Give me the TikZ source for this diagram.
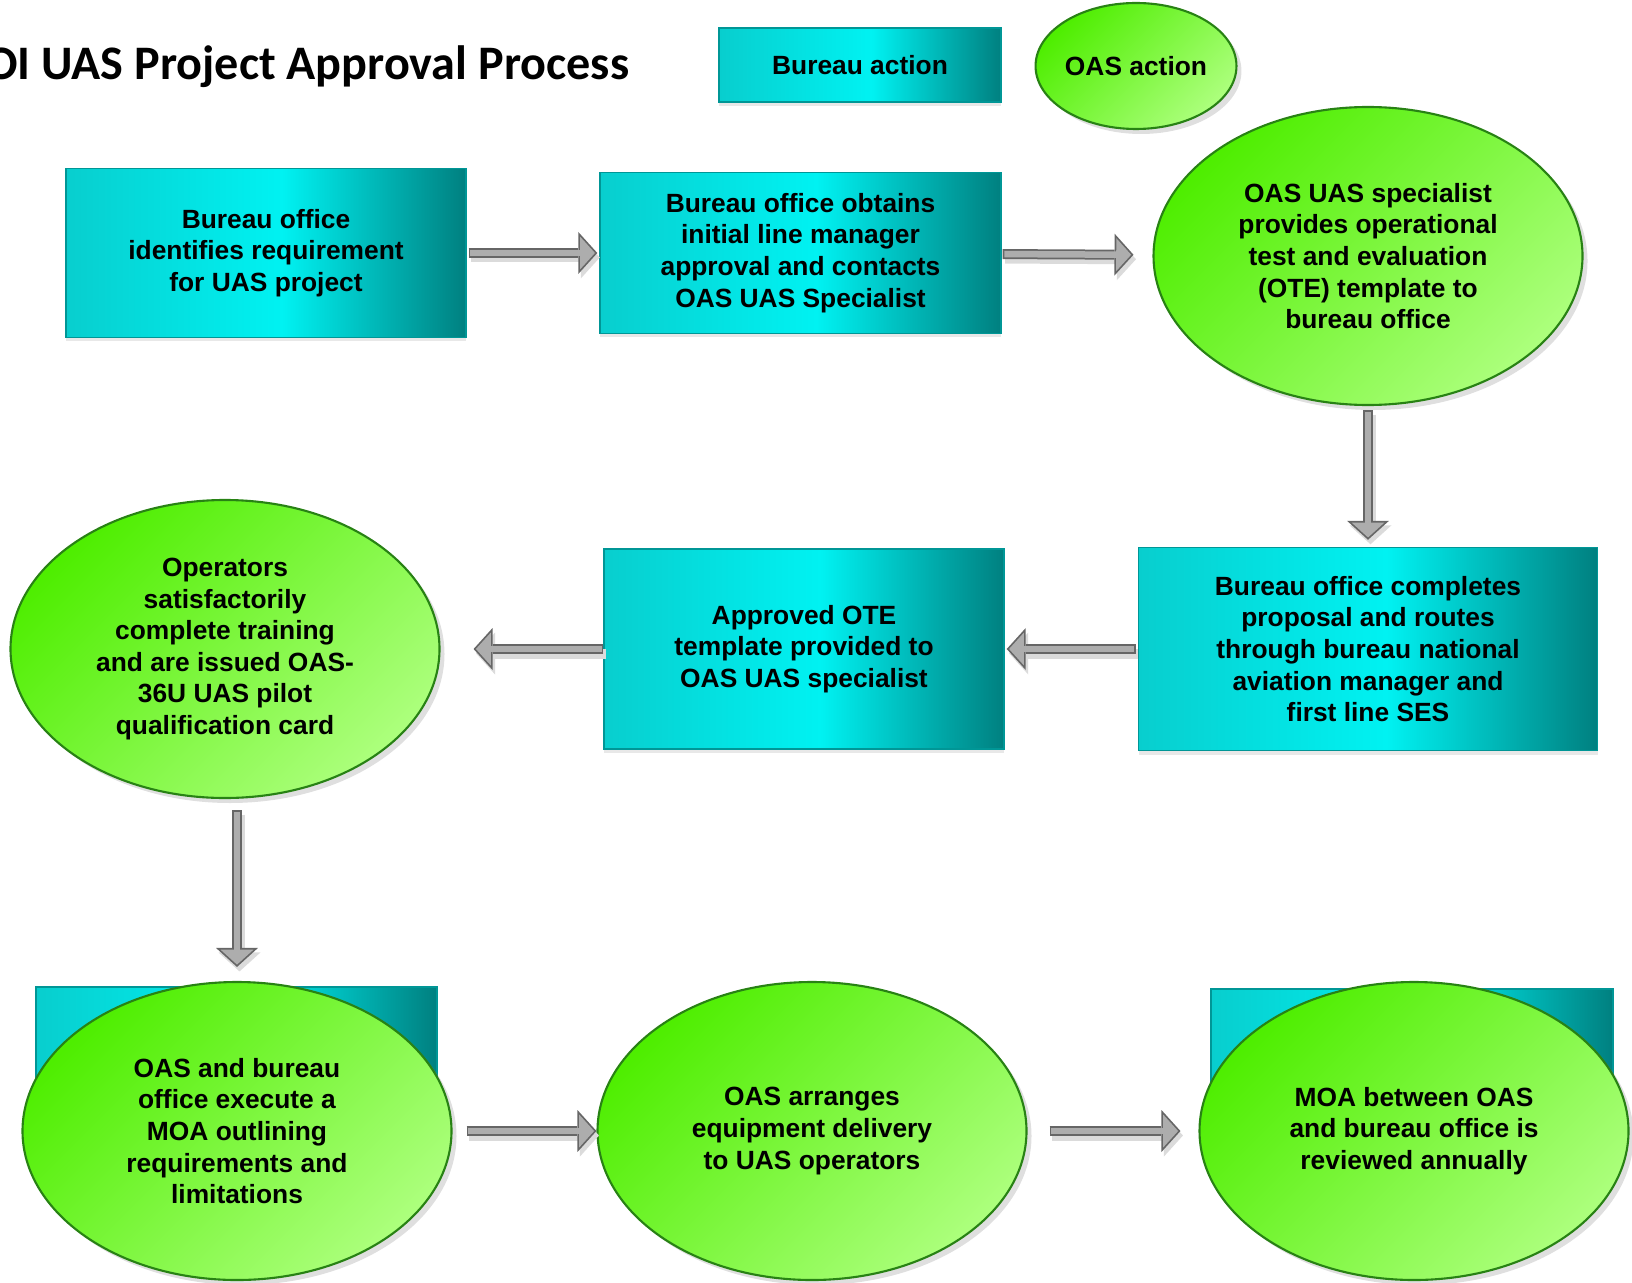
\documentclass[tikz,border=0pt]{standalone}
\usepackage{fontspec}
\setmainfont{Liberation Sans}
\newfontfamily\titlefont{Carlito}
\usepackage{tikz}
\usetikzlibrary{positioning}
\usetikzlibrary{calc}
\usetikzlibrary{arrows.meta}
\usetikzlibrary{shapes}
\usetikzlibrary{shadows}

\definecolor{bureauL}{RGB}{8,206,206}
\definecolor{bureauM}{RGB}{0,242,242}
\definecolor{bureauR}{RGB}{0,128,128}
\definecolor{bureauLine}{RGB}{0,150,150}
\definecolor{oasA}{RGB}{78,238,0}
\definecolor{oasB}{RGB}{172,255,124}
\definecolor{oasLine}{RGB}{40,130,20}

% cyan bar: light left, bright middle, dark teal right
\pgfdeclarehorizontalshading{bureau}{100bp}{color(0bp)=(bureauL); color(25bp)=(bureauL); color(52bp)=(bureauM); color(75bp)=(bureauR); color(100bp)=(bureauR)}

\newcommand{\boxfont}{\fontsize{7.5}{9.0}\selectfont\bfseries}

\tikzset{
bur/.style={
  rectangle,
  inner sep=0pt,
  align=center,
  draw=bureauLine,
  line width=0.4pt,
  shade,
  shading=bureau,
  drop shadow={shadow xshift=0cm,shadow yshift=-0.04cm,opacity=0.18},
  font=\boxfont
  },
oas/.style={
  ellipse,
  inner sep=0pt,
  align=center,
  minimum width=4.29cm,
  minimum height=2.98cm,
  draw=oasLine,
  line width=0.6pt,
  top color=oasA,
  bottom color=oasB,
  shading angle=45,
  drop shadow={shadow xshift=0.05cm,shadow yshift=-0.05cm,opacity=0.25},
  font=\boxfont
  },
flow/.style 2 args={
  line width=0.1cm,
  draw=black!60,
  shorten <=#1,
  shorten >=#2,
  -{Triangle[length=0.19cm,width=0.42cm,line width=0pt]}
  },
flowfill/.style 2 args={
  line width=0.065cm,
  draw=black!32,
  shorten <=#1+0.0175cm,
  shorten >=#2+0.0236cm,
  -{Triangle[length=0.149cm,width=0.329cm,line width=0pt]}
  },
flowshadow/.style 2 args={
  flow={#1}{#2},
  draw=black!14,
  transform canvas={shift={(0.025,-0.045)}}
  }
}

\begin{document}
\begin{tikzpicture}
        \useasboundingbox (0,0) rectangle (16.32,-12.82);

        % heading and key
        \node[anchor=base east,inner sep=0pt,font={\titlefont\fontsize{13.7}{16}\selectfont\bfseries}] at (6.30,-0.80) (title) {DOI UAS Project Approval Process};
        \node[bur,minimum width=2.82cm,minimum height=0.74cm] at (8.60,-0.65) (keybur) {Bureau action};
        \node[oas,minimum width=2.00cm,minimum height=1.26cm] at (11.36,-0.66) (keyoas) {OAS action};

        % first row
        \node[bur,minimum width=4.00cm,minimum height=1.69cm] at (2.66,-2.53) (req) {Bureau office\\identifies requirement\\for UAS project};
        \node[bur,minimum width=4.01cm,minimum height=1.61cm] at (8.005,-2.53) (obtain) {Bureau office obtains\\initial line manager\\approval and contacts\\OAS UAS Specialist};
        \node[oas] at (13.68,-2.56) (ote) {OAS UAS specialist\\provides operational\\test and evaluation\\(OTE) template to\\bureau office};

        % second row
        \node[bur,minimum width=4.59cm,minimum height=2.03cm] at (13.68,-6.49) (complete) {Bureau office completes\\proposal and routes\\through bureau national\\aviation manager and\\first line SES};
        \node[bur,minimum width=4.00cm,minimum height=2.00cm] at (8.04,-6.49) (approved) {Approved OTE\\template provided to\\OAS UAS specialist};
        \node[oas] at (2.25,-6.49) (train) {Operators\\satisfactorily\\complete training\\and are issued OAS-\\36U UAS pilot\\qualification card};

        % third row
        \node[bur,minimum width=4.01cm,minimum height=1.73cm] at (2.365,-10.735) (moabox) {};
        \node[bur,minimum width=4.02cm,minimum height=1.71cm] at (14.12,-10.745) (reviewbox) {};
        \node[oas] at (2.37,-11.31) (moa) {OAS and bureau\\office execute a\\MOA outlining\\requirements and\\limitations};
        \node[oas] at (8.12,-11.31) (deliver) {OAS arranges\\equipment delivery\\to UAS operators};
        \node[oas] at (14.14,-11.31) (review) {MOA between OAS\\and bureau office is\\reviewed annually};

        \path
        (req) edge [flowshadow={0.02cm}{0.02cm}] (obtain)
        (obtain) edge [flowshadow={0.01cm}{0.19cm}] (ote)
        (ote) edge [flowshadow={0.04cm}{0.07cm}] (complete)
        (complete) edge [flowshadow={0.02cm}{0.02cm}] (approved)
        (approved) edge [flowshadow={0cm}{0.33cm}] (train)
        (train.south -| moa.north) edge [flowshadow={0.11cm}{0.14cm}] (moa.north)
        (moa) edge [flowshadow={0.14cm}{0cm}] (deliver)
        (deliver) edge [flowshadow={0.22cm}{0.18cm}] (review)
        ;
        \path
        (req) edge [flow={0.02cm}{0.02cm}] (obtain)
        (obtain) edge [flow={0.01cm}{0.19cm}] (ote)
        (ote) edge [flow={0.04cm}{0.07cm}] (complete)
        (complete) edge [flow={0.02cm}{0.02cm}] (approved)
        (approved) edge [flow={0cm}{0.33cm}] (train)
        (train.south -| moa.north) edge [flow={0.11cm}{0.14cm}] (moa.north)
        (moa) edge [flow={0.14cm}{0cm}] (deliver)
        (deliver) edge [flow={0.22cm}{0.18cm}] (review)
        ;
        \path
        (req) edge [flowfill={0.02cm}{0.02cm}] (obtain)
        (obtain) edge [flowfill={0.01cm}{0.19cm}] (ote)
        (ote) edge [flowfill={0.04cm}{0.07cm}] (complete)
        (complete) edge [flowfill={0.02cm}{0.02cm}] (approved)
        (approved) edge [flowfill={0cm}{0.33cm}] (train)
        (train.south -| moa.north) edge [flowfill={0.11cm}{0.14cm}] (moa.north)
        (moa) edge [flowfill={0.14cm}{0cm}] (deliver)
        (deliver) edge [flowfill={0.22cm}{0.18cm}] (review)
        ;
    \end{tikzpicture}
\end{document}
